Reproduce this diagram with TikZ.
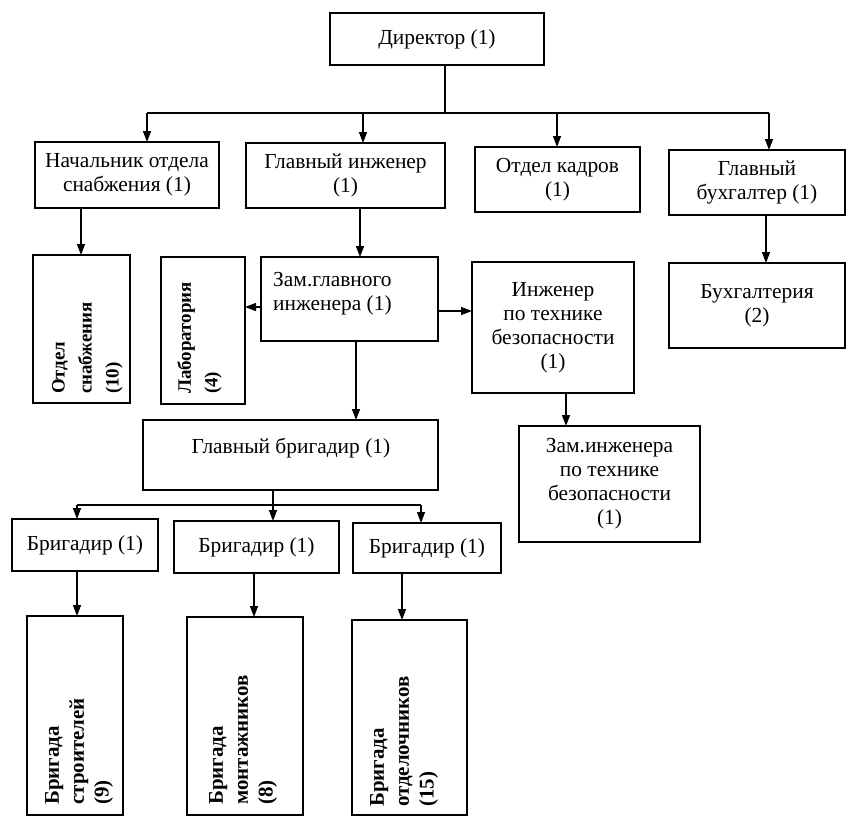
\documentclass[tikz,border=0pt]{standalone}
\usepackage{fontspec}
\setmainfont{Liberation Serif}
\usetikzlibrary{arrows.meta}
\begin{document}
\begin{tikzpicture}[x=1bp,y=-1bp,
  box/.style={draw, line width=1.4bp, inner sep=0pt, outer sep=0pt, align=center,
    font=\fontsize{21.5}{24}\selectfont},
  txt/.style={inner sep=0pt, align=center, font=\fontsize{21.5}{24}\selectfont},
  vtxt/.style={inner sep=0pt, align=left, rotate=90, anchor=north west,
    font=\bfseries\fontsize{19}{27}\selectfont},
  vtxtb/.style={vtxt, font=\bfseries\fontsize{21}{25}\selectfont},
  conn/.style={line width=1.4bp},
  arr/.style={line width=1.4bp, -{Triangle[length=11bp,width=8bp]}}]
\useasboundingbox (0,0) rectangle (846,817);

% boxes
\node[box, minimum width=214bp, minimum height=52bp] (dir) at (437,39) {Директор (1)};
\node[box, minimum width=184bp, minimum height=66bp] (nach) at (127,175) {Начальник отдела\\снабжения (1)};
\node[box, minimum width=199bp, minimum height=65bp] (gi) at (345.5,175.5) {Главный инженер\\(1)};
\node[box, minimum width=165bp, minimum height=65bp] (ok) at (557.5,179.5) {Отдел кадров\\(1)};
\node[box, minimum width=176bp, minimum height=65bp] (gb) at (757,182.5) {Главный\\бухгалтер (1)};
\node[box, minimum width=97bp, minimum height=148bp] (os) at (81.5,329) {};
\node[box, minimum width=84bp, minimum height=147bp] (lab) at (203,330.5) {};
\node[box, minimum width=177bp, minimum height=84bp] (zam) at (349.5,299) {};
\node[box, minimum width=162bp, minimum height=131bp] (itb) at (553,327.5) {Инженер\\по технике\\безопасности\\(1)};
\node[box, minimum width=176bp, minimum height=85bp] (buhg) at (757,305.5) {Бухгалтерия\\(2)};
\node[box, minimum width=295bp, minimum height=70bp] (gbr) at (290.5,455) {};
\node[box, minimum width=181bp, minimum height=116bp] (zitb) at (609.5,484) {Зам.инженера\\по технике\\безопасности\\(1)};
\node[box, minimum width=146bp, minimum height=52bp] (br1) at (85,545) {Бригадир (1)};
\node[box, minimum width=165bp, minimum height=52bp] (br2) at (256.5,547) {Бригадир (1)};
\node[box, minimum width=148bp, minimum height=50bp] (br3) at (427,548) {Бригадир (1)};
\node[box, minimum width=96bp, minimum height=199bp] (bs) at (75,715.5) {};
\node[box, minimum width=116bp, minimum height=198bp] (bm) at (245,716) {};
\node[box, minimum width=115bp, minimum height=195bp] (bo) at (409.5,717.5) {};

% offset texts
\node[txt, align=left, anchor=west] (zamt) at (273,294) {Зам.главного\\инженера (1)};
\node[txt] (gbrt) at (291,448) {Главный бригадир (1)};

% rotated texts
\node[vtxt] (ost) at (52,394) {Отдел\\снабжения\\(10)};
\node[vtxt] (labt) at (177,394) {Лаборатория\\(4)};
\node[vtxtb] (bst) at (45,805) {Бригада\\строителей\\(9)};
\node[vtxtb] (bmt) at (209,805) {Бригада\\монтажников\\(8)};
\node[vtxtb] (bot) at (370,807) {Бригада\\отделочников\\(15)};

% top bus
\coordinate (bus0) at (445,113);
\coordinate (t1) at (147,113);
\coordinate (t2) at (363,113);
\coordinate (t3) at (557,113);
\coordinate (t4) at (769,113);
\draw[conn] (bus0 |- dir.south) -- (bus0);
\draw[conn] (t1) -- (t4);
\draw[arr] (t1) -- (t1 |- nach.north);
\draw[arr] (t2) -- (t2 |- gi.north);
\draw[arr] (t3) -- (t3 |- ok.north);
\draw[arr] (t4) -- (t4 |- gb.north);

% second level
\coordinate (k1) at (81,208);
\coordinate (k2) at (360,208);
\coordinate (k3) at (766,215);
\draw[arr] (k1) -- (k1 |- os.north);
\draw[arr] (k2) -- (k2 |- zam.north);
\draw[arr] (k3) -- (k3 |- buhg.north);

\coordinate (k4) at (261,307);
\coordinate (k5) at (438,311);
\coordinate (k6) at (356,341);
\coordinate (k7) at (566,393);
\draw[arr] (k4) -- (k4 -| lab.east);
\draw[arr] (k5) -- (k5 -| itb.west);
\draw[arr] (k6) -- (k6 |- gbr.north);
\draw[arr] (k7) -- (k7 |- zitb.north);

% brigade bus
\coordinate (bb0) at (273,505);
\coordinate (u1) at (77,505);
\coordinate (u2) at (273,505);
\coordinate (u3) at (421,505);
\draw[conn] (bb0 |- gbr.south) -- (bb0);
\draw[conn] (u1) -- (u3);
\draw[arr] (u1) -- (u1 |- br1.north);
\draw[arr] (u2) -- (u2 |- br2.north);
\draw[arr] (u3) -- (u3 |- br3.north);

\coordinate (v1) at (77,571);
\coordinate (v2) at (254,573);
\coordinate (v3) at (402,573);
\draw[arr] (v1) -- (v1 |- bs.north);
\draw[arr] (v2) -- (v2 |- bm.north);
\draw[arr] (v3) -- (v3 |- bo.north);
\end{tikzpicture}
\end{document}
